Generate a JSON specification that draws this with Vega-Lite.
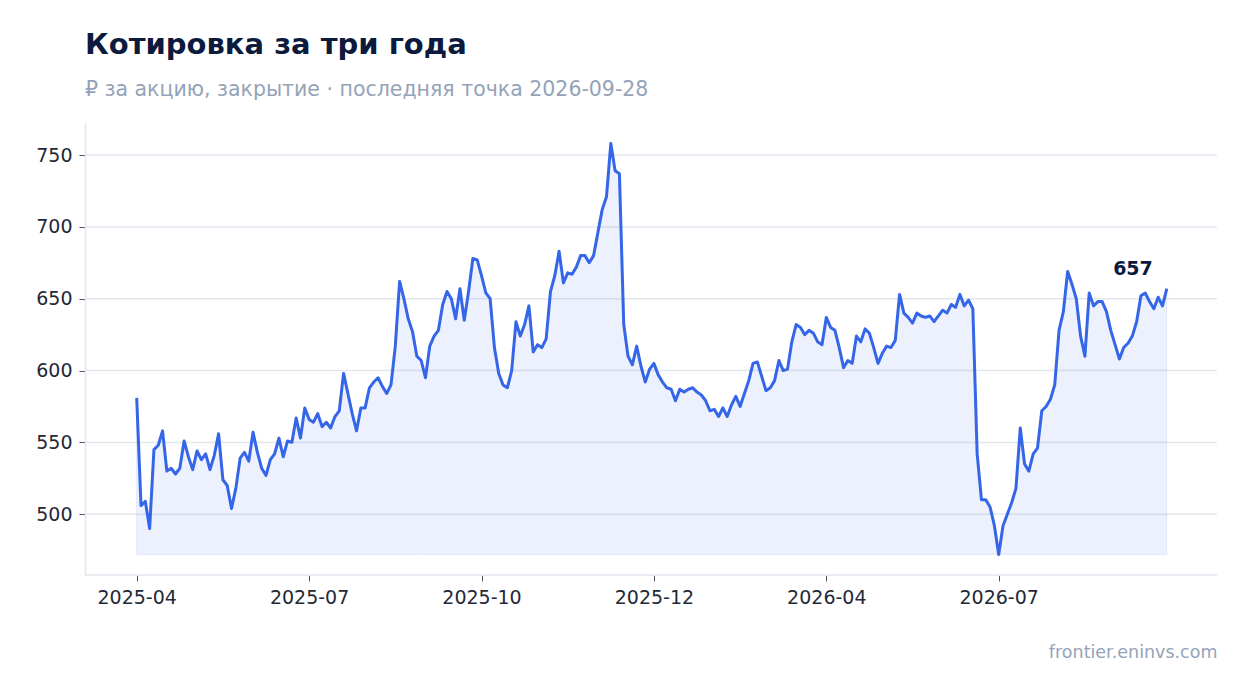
{
  "$schema": "https://vega.github.io/schema/vega-lite/v6.json",
  "width": 1132,
  "height": 452,
  "autosize": {"type": "none"},
  "padding": {"left": 85, "top": 123, "right": 30, "bottom": 118},
  "background": "white",
  "title": {
    "text": "Котировка за три года",
    "subtitle": "₽ за акцию, закрытие · последняя точка 2026-09-28",
    "anchor": "start",
    "frame": "group",
    "font": "DejaVu Sans",
    "fontSize": 29,
    "fontWeight": "bold",
    "color": "#0c1a3e",
    "subtitleFont": "DejaVu Sans",
    "subtitleFontSize": 20.5,
    "subtitleColor": "#94a3b8",
    "subtitlePadding": 20,
    "offset": 23
  },
  "layer": [
    {
      "data": {"values": [{"level": 500}, {"level": 550}, {"level": 600}, {"level": 650}, {"level": 700}, {"level": 750}]},
      "mark": {"type": "rule", "color": "#e2e6ee", "strokeWidth": 1.5},
      "encoding": {
        "y": {
          "field": "level",
          "type": "quantitative",
          "scale": {"domain": [457.7, 772.3], "nice": false, "zero": false},
          "axis": {"title": null, "values": [500, 550, 600, 650, 700, 750], "format": "d"}
        }
      }
    },
    {
      "data": {"values": [{"level": 457.7}]},
      "mark": {"type": "rule", "color": "#e2e6ee", "strokeWidth": 1.5},
      "encoding": {
        "y": {
          "field": "level",
          "type": "quantitative",
          "axis": {"title": null, "values": [500, 550, 600, 650, 700, 750], "format": "d"}
        }
      }
    },
    {
      "data": {
        "values": [
          {"date": "2025-04-01", "close": 581}, {"date": "2025-04-03", "close": 506}, {"date": "2025-04-05", "close": 509}, {"date": "2025-04-08", "close": 490},
          {"date": "2025-04-10", "close": 545}, {"date": "2025-04-12", "close": 548}, {"date": "2025-04-14", "close": 558}, {"date": "2025-04-17", "close": 530},
          {"date": "2025-04-19", "close": 532}, {"date": "2025-04-21", "close": 528}, {"date": "2025-04-23", "close": 532}, {"date": "2025-04-26", "close": 551},
          {"date": "2025-04-28", "close": 540}, {"date": "2025-04-30", "close": 531}, {"date": "2025-05-02", "close": 544}, {"date": "2025-05-05", "close": 538},
          {"date": "2025-05-07", "close": 542}, {"date": "2025-05-09", "close": 531}, {"date": "2025-05-11", "close": 541}, {"date": "2025-05-14", "close": 556},
          {"date": "2025-05-16", "close": 524}, {"date": "2025-05-18", "close": 520}, {"date": "2025-05-20", "close": 504}, {"date": "2025-05-23", "close": 518},
          {"date": "2025-05-25", "close": 539}, {"date": "2025-05-27", "close": 543}, {"date": "2025-05-29", "close": 537}, {"date": "2025-06-01", "close": 557},
          {"date": "2025-06-03", "close": 543}, {"date": "2025-06-05", "close": 532}, {"date": "2025-06-07", "close": 527}, {"date": "2025-06-10", "close": 538},
          {"date": "2025-06-12", "close": 542}, {"date": "2025-06-14", "close": 553}, {"date": "2025-06-16", "close": 540}, {"date": "2025-06-19", "close": 551},
          {"date": "2025-06-21", "close": 550}, {"date": "2025-06-23", "close": 567}, {"date": "2025-06-25", "close": 553}, {"date": "2025-06-28", "close": 574},
          {"date": "2025-07-01", "close": 566}, {"date": "2025-07-03", "close": 564}, {"date": "2025-07-05", "close": 570}, {"date": "2025-07-08", "close": 561},
          {"date": "2025-07-10", "close": 564}, {"date": "2025-07-12", "close": 560}, {"date": "2025-07-14", "close": 568}, {"date": "2025-07-17", "close": 572},
          {"date": "2025-07-19", "close": 598}, {"date": "2025-07-21", "close": 584}, {"date": "2025-07-23", "close": 570}, {"date": "2025-07-26", "close": 558},
          {"date": "2025-07-28", "close": 574}, {"date": "2025-07-30", "close": 574}, {"date": "2025-08-01", "close": 588}, {"date": "2025-08-04", "close": 592},
          {"date": "2025-08-06", "close": 595}, {"date": "2025-08-08", "close": 589}, {"date": "2025-08-10", "close": 584}, {"date": "2025-08-13", "close": 590},
          {"date": "2025-08-15", "close": 617}, {"date": "2025-08-17", "close": 662}, {"date": "2025-08-19", "close": 650}, {"date": "2025-08-22", "close": 636},
          {"date": "2025-08-24", "close": 627}, {"date": "2025-08-26", "close": 610}, {"date": "2025-08-28", "close": 607}, {"date": "2025-08-31", "close": 595},
          {"date": "2025-09-02", "close": 617}, {"date": "2025-09-04", "close": 624}, {"date": "2025-09-06", "close": 628}, {"date": "2025-09-09", "close": 646},
          {"date": "2025-09-11", "close": 655}, {"date": "2025-09-13", "close": 650}, {"date": "2025-09-15", "close": 636}, {"date": "2025-09-18", "close": 657},
          {"date": "2025-09-20", "close": 635}, {"date": "2025-09-22", "close": 655}, {"date": "2025-09-25", "close": 678}, {"date": "2025-09-28", "close": 677},
          {"date": "2025-10-01", "close": 666}, {"date": "2025-10-03", "close": 654}, {"date": "2025-10-05", "close": 650}, {"date": "2025-10-08", "close": 616},
          {"date": "2025-10-10", "close": 598}, {"date": "2025-10-12", "close": 590}, {"date": "2025-10-14", "close": 588}, {"date": "2025-10-17", "close": 600},
          {"date": "2025-10-19", "close": 634}, {"date": "2025-10-21", "close": 624}, {"date": "2025-10-23", "close": 632}, {"date": "2025-10-26", "close": 645},
          {"date": "2025-10-28", "close": 613}, {"date": "2025-10-30", "close": 618}, {"date": "2025-11-01", "close": 616}, {"date": "2025-11-04", "close": 622},
          {"date": "2025-11-06", "close": 655}, {"date": "2025-11-08", "close": 666}, {"date": "2025-11-10", "close": 683}, {"date": "2025-11-13", "close": 661},
          {"date": "2025-11-15", "close": 668}, {"date": "2025-11-17", "close": 667}, {"date": "2025-11-19", "close": 672}, {"date": "2025-11-22", "close": 680},
          {"date": "2025-11-24", "close": 680}, {"date": "2025-11-26", "close": 675}, {"date": "2025-11-28", "close": 680}, {"date": "2025-12-01", "close": 696},
          {"date": "2025-12-03", "close": 712}, {"date": "2025-12-05", "close": 721}, {"date": "2025-12-07", "close": 758}, {"date": "2025-12-10", "close": 739},
          {"date": "2025-12-12", "close": 737}, {"date": "2025-12-14", "close": 632}, {"date": "2025-12-16", "close": 610}, {"date": "2025-12-19", "close": 604},
          {"date": "2025-12-21", "close": 617}, {"date": "2025-12-23", "close": 603}, {"date": "2025-12-25", "close": 592}, {"date": "2025-12-28", "close": 601},
          {"date": "2025-12-30", "close": 605}, {"date": "2026-01-01", "close": 597}, {"date": "2026-01-03", "close": 592}, {"date": "2026-01-06", "close": 588},
          {"date": "2026-01-08", "close": 587}, {"date": "2026-01-10", "close": 579}, {"date": "2026-01-12", "close": 587}, {"date": "2026-01-15", "close": 585},
          {"date": "2026-01-17", "close": 587}, {"date": "2026-01-19", "close": 588}, {"date": "2026-01-21", "close": 585}, {"date": "2026-01-24", "close": 583},
          {"date": "2026-01-26", "close": 579}, {"date": "2026-01-28", "close": 572}, {"date": "2026-01-30", "close": 573}, {"date": "2026-02-02", "close": 568},
          {"date": "2026-02-04", "close": 574}, {"date": "2026-02-06", "close": 568}, {"date": "2026-02-08", "close": 576}, {"date": "2026-02-11", "close": 582},
          {"date": "2026-02-13", "close": 575}, {"date": "2026-02-15", "close": 584}, {"date": "2026-02-17", "close": 593}, {"date": "2026-02-20", "close": 605},
          {"date": "2026-02-22", "close": 606}, {"date": "2026-02-24", "close": 596}, {"date": "2026-02-26", "close": 586}, {"date": "2026-03-01", "close": 588},
          {"date": "2026-03-03", "close": 593}, {"date": "2026-03-05", "close": 607}, {"date": "2026-03-07", "close": 600}, {"date": "2026-03-10", "close": 601},
          {"date": "2026-03-12", "close": 620}, {"date": "2026-03-14", "close": 632}, {"date": "2026-03-16", "close": 630}, {"date": "2026-03-19", "close": 625},
          {"date": "2026-03-21", "close": 628}, {"date": "2026-03-23", "close": 626}, {"date": "2026-03-26", "close": 620}, {"date": "2026-03-29", "close": 618},
          {"date": "2026-04-01", "close": 637}, {"date": "2026-04-03", "close": 630}, {"date": "2026-04-05", "close": 628}, {"date": "2026-04-08", "close": 616},
          {"date": "2026-04-10", "close": 602}, {"date": "2026-04-12", "close": 607}, {"date": "2026-04-14", "close": 605}, {"date": "2026-04-17", "close": 624},
          {"date": "2026-04-19", "close": 620}, {"date": "2026-04-21", "close": 629}, {"date": "2026-04-23", "close": 626}, {"date": "2026-04-26", "close": 616},
          {"date": "2026-04-28", "close": 605}, {"date": "2026-04-30", "close": 612}, {"date": "2026-05-02", "close": 617}, {"date": "2026-05-05", "close": 616},
          {"date": "2026-05-07", "close": 621}, {"date": "2026-05-09", "close": 653}, {"date": "2026-05-11", "close": 640}, {"date": "2026-05-14", "close": 637},
          {"date": "2026-05-16", "close": 633}, {"date": "2026-05-18", "close": 640}, {"date": "2026-05-20", "close": 638}, {"date": "2026-05-23", "close": 637},
          {"date": "2026-05-25", "close": 638}, {"date": "2026-05-27", "close": 634}, {"date": "2026-05-29", "close": 638}, {"date": "2026-06-01", "close": 642},
          {"date": "2026-06-03", "close": 640}, {"date": "2026-06-05", "close": 646}, {"date": "2026-06-07", "close": 644}, {"date": "2026-06-10", "close": 653},
          {"date": "2026-06-12", "close": 645}, {"date": "2026-06-14", "close": 649}, {"date": "2026-06-16", "close": 643}, {"date": "2026-06-19", "close": 542},
          {"date": "2026-06-21", "close": 510}, {"date": "2026-06-23", "close": 510}, {"date": "2026-06-25", "close": 505}, {"date": "2026-06-28", "close": 492},
          {"date": "2026-07-01", "close": 472}, {"date": "2026-07-03", "close": 492}, {"date": "2026-07-05", "close": 500}, {"date": "2026-07-08", "close": 508},
          {"date": "2026-07-10", "close": 518}, {"date": "2026-07-12", "close": 560}, {"date": "2026-07-14", "close": 535}, {"date": "2026-07-17", "close": 530},
          {"date": "2026-07-19", "close": 542}, {"date": "2026-07-21", "close": 546}, {"date": "2026-07-23", "close": 572}, {"date": "2026-07-26", "close": 575},
          {"date": "2026-07-28", "close": 580}, {"date": "2026-07-30", "close": 590}, {"date": "2026-08-01", "close": 628}, {"date": "2026-08-04", "close": 641},
          {"date": "2026-08-06", "close": 669}, {"date": "2026-08-08", "close": 660}, {"date": "2026-08-10", "close": 650}, {"date": "2026-08-13", "close": 624},
          {"date": "2026-08-15", "close": 610}, {"date": "2026-08-17", "close": 654}, {"date": "2026-08-19", "close": 645}, {"date": "2026-08-22", "close": 648},
          {"date": "2026-08-24", "close": 648}, {"date": "2026-08-26", "close": 641}, {"date": "2026-08-28", "close": 628}, {"date": "2026-08-31", "close": 618},
          {"date": "2026-09-02", "close": 608}, {"date": "2026-09-04", "close": 616}, {"date": "2026-09-06", "close": 619}, {"date": "2026-09-09", "close": 624},
          {"date": "2026-09-11", "close": 634}, {"date": "2026-09-13", "close": 652}, {"date": "2026-09-15", "close": 654}, {"date": "2026-09-18", "close": 648},
          {"date": "2026-09-20", "close": 643}, {"date": "2026-09-22", "close": 651}, {"date": "2026-09-25", "close": 645}, {"date": "2026-09-28", "close": 657}
        ]
      },
      "transform": [
        {"joinaggregate": [{"op": "min", "field": "close", "as": "low"}]}
      ],
      "encoding": {
        "x": {
          "field": "date",
          "type": "ordinal",
          "sort": "ascending",
          "scale": {"type": "point", "padding": 0, "range": [51.7, 1081.8]},
          "axis": {
            "values": ["2025-04-01", "2025-07-01", "2025-10-01", "2025-12-30", "2026-04-01", "2026-07-01"],
            "labelExpr": "substring(datum.label, 0, 7)",
            "title": "frontier.eninvs.com",
            "titleX": 1132,
            "titleAlign": "right",
            "titleAnchor": "end",
            "titlePadding": 36
          }
        },
        "y": {
          "field": "close",
          "type": "quantitative",
          "axis": {"title": null, "values": [500, 550, 600, 650, 700, 750], "format": "d"}
        }
      },
      "layer": [
        {
          "mark": {"type": "area", "color": "#3566e8", "fillOpacity": 0.09, "stroke": "#3566e8", "strokeOpacity": 0.1, "strokeWidth": 1},
          "encoding": {"y2": {"field": "low"}}
        },
        {
          "mark": {"type": "line", "color": "#3566e8", "strokeWidth": 3, "strokeJoin": "round"},
          "encoding": {}
        },
        {
          "transform": [{"filter": "datum.date === '2026-09-28'"}],
          "mark": {"type": "text", "align": "right", "baseline": "bottom", "dx": -14, "dy": -10, "font": "DejaVu Sans", "fontSize": 19, "fontWeight": "bold", "color": "#0c1a3e"},
          "encoding": {"text": {"field": "close", "type": "quantitative", "format": "d"}}
        }
      ]
    }
  ],
  "config": {
    "view": {"stroke": null},
    "axisX": {
      "labelAngle": 0,
      "labelFont": "DejaVu Sans",
      "labelFontSize": 19,
      "labelColor": "#1f2937",
      "labelPadding": 7,
      "tickColor": "#4b5563",
      "tickSize": 6,
      "domain": false,
      "grid": false,
      "titleFont": "DejaVu Sans",
      "titleFontSize": 17.5,
      "titleFontWeight": "normal",
      "titleColor": "#94a3b8"
    },
    "axisY": {
      "labelFont": "DejaVu Sans",
      "labelFontSize": 19,
      "labelColor": "#1f2937",
      "labelPadding": 7,
      "tickColor": "#4b5563",
      "tickSize": 6,
      "grid": false,
      "domainColor": "#e2e6ee",
      "domainWidth": 1.5
    }
  }
}
